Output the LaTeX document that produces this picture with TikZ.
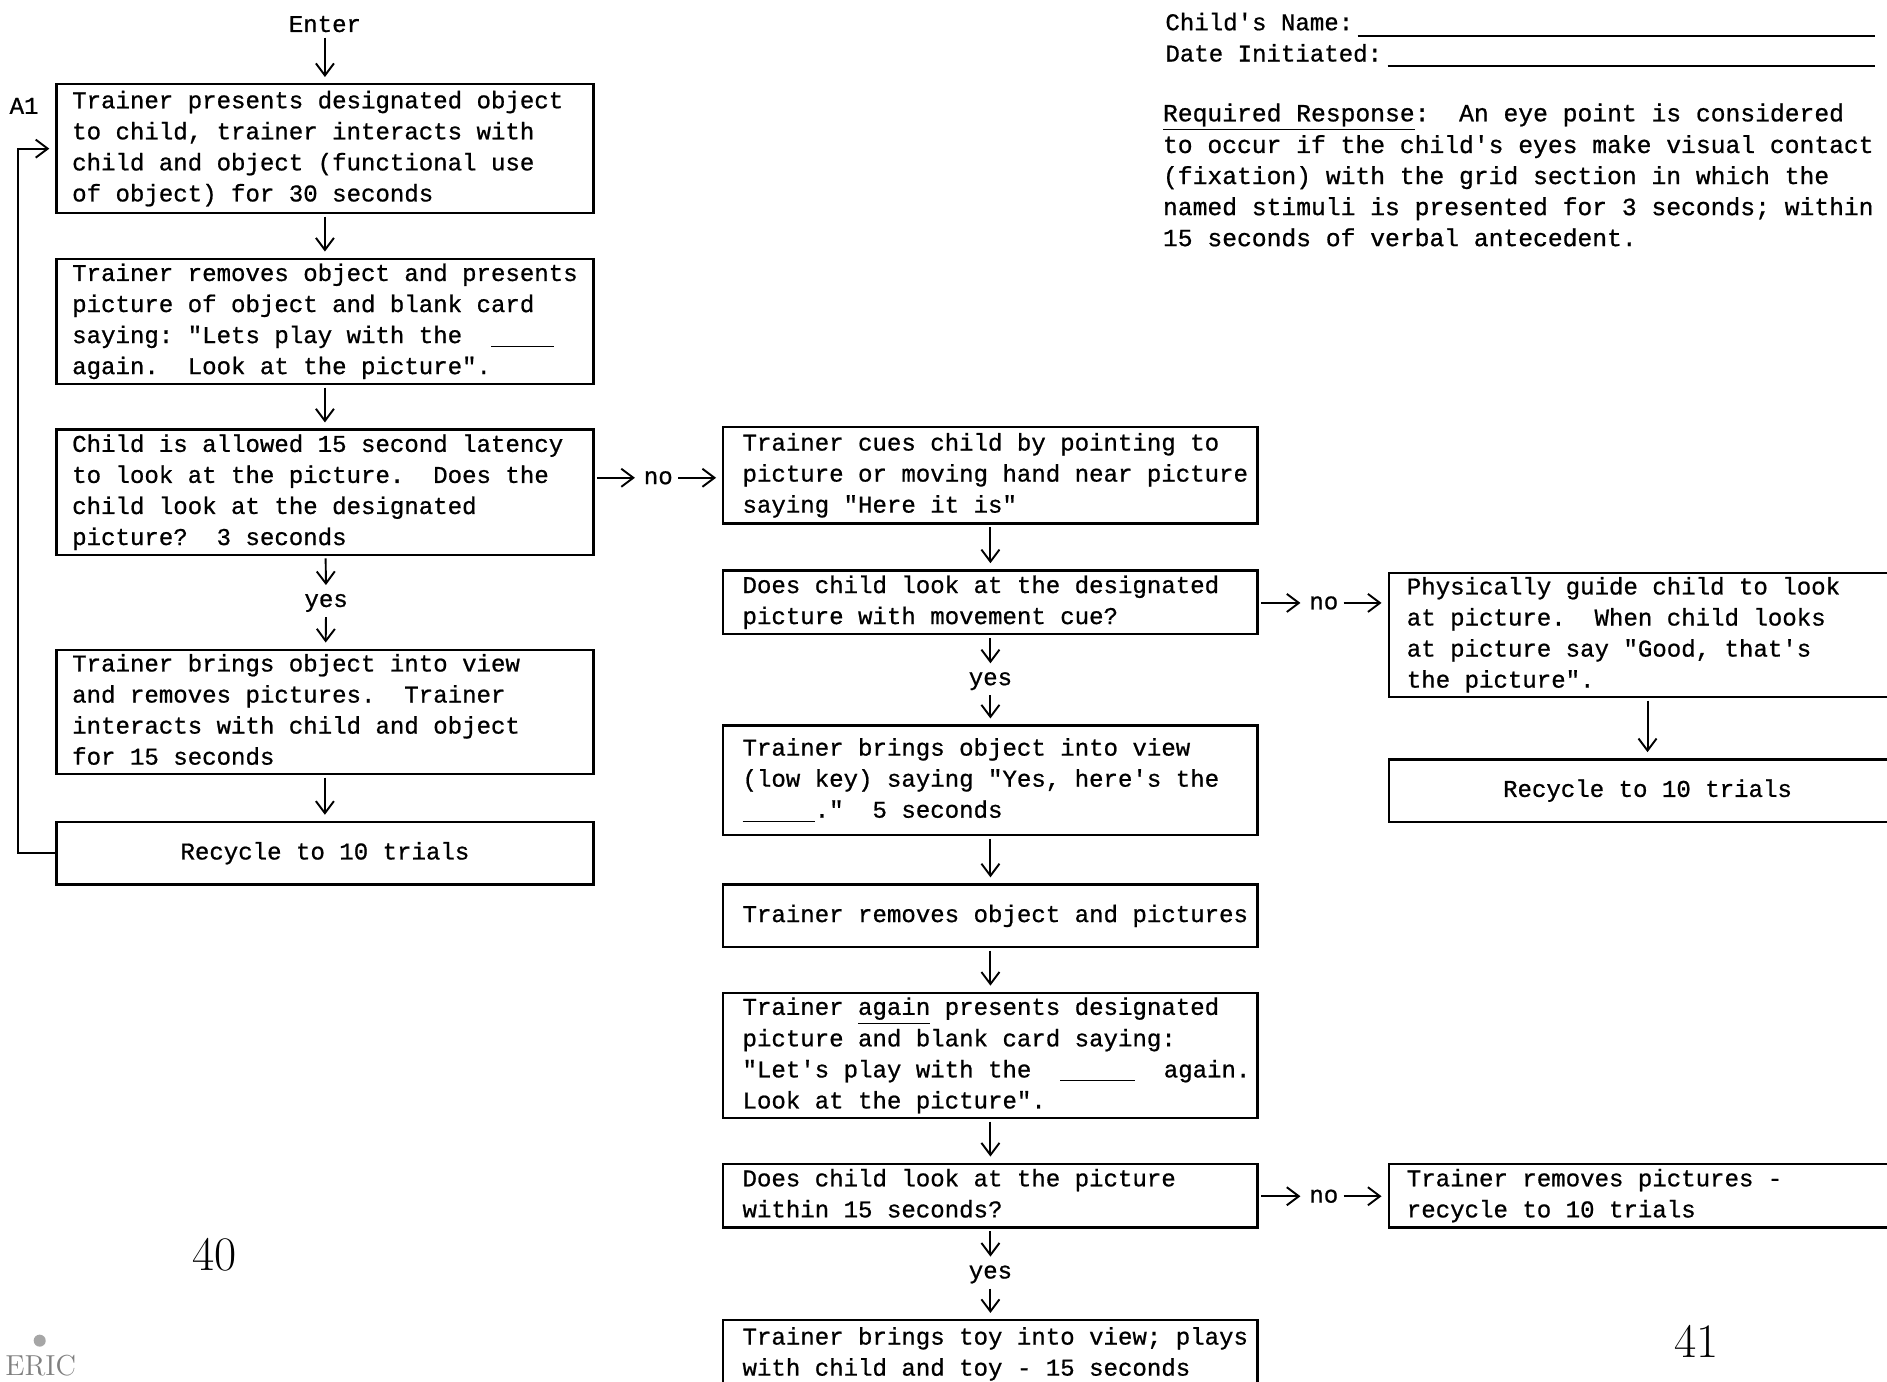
\documentclass[tikz,border=0pt]{standalone}
\usepackage{fontspec}
\setmonofont{Liberation Mono}[FakeBold=0.8]
\usetikzlibrary{arrows.meta}
\newcommand{\tlines}[2]{\makebox[#1][l]{\begin{tabular}{@{}l@{}}#2\end{tabular}}}
\newcommand{\blank}[1]{\underline{\makebox[#1]{}}}
\begin{document}
\begin{tikzpicture}[x=0.5pt,y=-0.5pt,
  every node/.style={font=\ttfamily\fontsize{10}{12.9}\selectfont},
  boxbase/.style={draw, line width=1pt, inner ysep=0pt},
  lbox/.style={boxbase, inner xsep=6.5pt},
  mbox/.style={boxbase, inner xsep=8pt},
  rbox/.style={boxbase, inner xsep=7.5pt},
  lbl/.style={inner sep=1pt},
  arr/.style={-{Straight Barb[length=5pt,width=7.5pt]}, line width=0.8pt, shorten >=2.5pt, shorten <=1pt},
  formline/.style={line width=0.8pt}
]
\fill[white] (0,0) rectangle (1568,1148);
\useasboundingbox (0,0) rectangle (1568,1148);

% ---------- left column ----------
\node[lbl] (enter) at (270,20) {Enter};
\node[lbl] (a1lbl) at (20,88) {A1};
\node[lbox, minimum height=53.5pt] (A1) at (270,123.5) {\tlines{210pt}{Trainer presents designated object\\to child, trainer interacts with\\child and object (functional use\\of object) for 30 seconds}};
\node[lbox, minimum height=52pt] (B2) at (270,267) {\tlines{210pt}{Trainer removes object and presents\\picture of object and blank card\\saying: "Lets play with the~ \blank{26pt}\\again.~ Look at the picture".}};
\node[lbox, minimum height=52pt] (B3) at (270,409) {\tlines{210pt}{Child is allowed 15 second latency\\to look at the picture.~ Does the\\child look at the designated\\picture?~ 3 seconds}};
\node[lbl] (yes1) at (271,501) {yes};
\node[lbox, minimum height=51.5pt] (B4) at (270,591.5) {\tlines{210pt}{Trainer brings object into view\\and removes pictures.~ Trainer\\interacts with child and object\\for 15 seconds}};
\node[lbox, minimum height=26pt] (B5) at (270,709) {\makebox[210pt][c]{Recycle to 10 trials}};

\draw[arr] (enter) -- (A1);
\draw[arr] (A1) -- (B2);
\draw[arr] (B2) -- (B3);
\draw[arr] (B3) -- (yes1);
\draw[arr] (yes1) -- (B4);
\draw[arr] (B4) -- (B5);
\coordinate (lp) at (15,709);
\draw[arr, shorten <=0pt] (B5.west) -- (lp) |- (A1.west);

% ---------- middle column ----------
\node[lbl] (no1) at (547,397) {no};
\node[mbox, minimum height=40pt] (M1) at (823,395) {\tlines{206pt}{Trainer cues child by pointing to\\picture or moving hand near picture\\saying "Here it is"}};
\node[mbox, minimum height=26.5pt] (M2) at (823,500.5) {\tlines{206pt}{Does child look at the designated\\picture with movement cue?}};
\node[lbl] (yes2) at (823,566) {yes};
\node[mbox, minimum height=45.5pt] (M3) at (823,648.5) {\tlines{206pt}{Trainer brings object into view\\(low key) saying "Yes, here's the\\\blank{30pt}."~ 5 seconds}};
\node[mbox, minimum height=26pt] (M4) at (823,761) {\tlines{206pt}{Trainer removes object and pictures}};
\node[mbox, minimum height=52pt] (M5) at (823,877) {\tlines{206pt}{Trainer \underline{again} presents designated\\picture and blank card saying:\\"Let's play with the~ \blank{31pt}~ again.\\Look at the picture".}};
\node[mbox, minimum height=26.5pt] (M6) at (823,993.5) {\tlines{206pt}{Does child look at the picture\\within 15 seconds?}};
\node[lbl] (yes3) at (823,1059) {yes};
\node[mbox, minimum height=28pt] (M7) at (823,1125) {\tlines{206pt}{Trainer brings toy into view; plays\\with child and toy - 15 seconds}};

\draw[arr] (B3.east |- no1) -- (no1.west);
\draw[arr] (no1.east) -- (M1.west |- no1);
\draw[arr] (M1) -- (M2);
\draw[arr] (M2) -- (yes2);
\draw[arr] (yes2) -- (M3);
\draw[arr] (M3) -- (M4);
\draw[arr] (M4) -- (M5);
\draw[arr] (M5) -- (M6);
\draw[arr] (M6) -- (yes3);
\draw[arr] (yes3) -- (M7);

% ---------- right column ----------
\node[lbl] (no2) at (1100,501) {no};
\node[rbox, minimum height=51.5pt] (R1) at (1369,527.5) {\tlines{200pt}{Physically guide child to look\\at picture.~ When child looks\\at picture say "Good, that's\\the picture".}};
\node[rbox, minimum height=26pt] (R2) at (1369,657) {\makebox[200pt][c]{Recycle to 10 trials}};
\node[lbl] (no3) at (1100,994) {no};
\node[rbox, minimum height=26.5pt] (R3) at (1369,993.5) {\tlines{200pt}{Trainer removes pictures -\\recycle to 10 trials}};

\draw[arr] (M2.east |- no2) -- (no2.west);
\draw[arr] (no2.east) -- (R1.west |- no2);
\draw[arr] (R1) -- (R2);
\draw[arr] (M6.east |- no3) -- (no3.west);
\draw[arr] (no3.east) -- (R3.west |- no3);

% ---------- header ----------
\node[inner sep=0pt, anchor=west] (cname) at (968,18) {Child's Name:};
\node[inner sep=0pt, anchor=west] (cdate) at (968,44) {Date Initiated:};
\draw[formline] (1128,30) -- (1558,30);
\draw[formline] (1153,55) -- (1558,55);
\node[inner sep=0pt, anchor=west, font=\ttfamily\fontsize{10.25}{12.9}\selectfont] (resp) at (966,147.5) {\begin{tabular}{@{}l@{}}\underline{Required Response}:~ An eye point is considered\\to occur if the child's eyes make visual contact\\(fixation) with the grid section in which the\\named stimuli is presented for 3 seconds; within\\15 seconds of verbal antecedent.\end{tabular}};

% ---------- page numbers and logo ----------
\node[inner sep=0pt, font=\rmfamily\fontsize{20}{20}\selectfont] (pg40) at (178,1043) {40};
\node[inner sep=0pt, font=\rmfamily\fontsize{20}{20}\selectfont] (pg41) at (1410,1115) {41};
\node[inner sep=0pt, anchor=south west, text=gray, font=\rmfamily\fontsize{12}{12}\selectfont] (eric) at (4,1144) {ERIC};
\fill[gray!70] (33,1114) circle (5);
\end{tikzpicture}
\end{document}
